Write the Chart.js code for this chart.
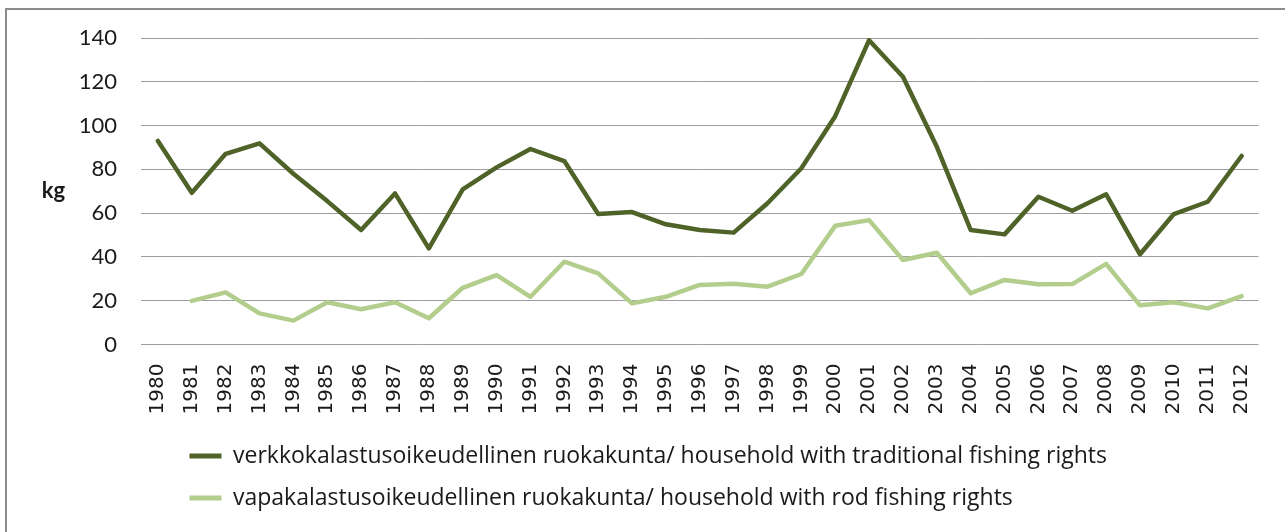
<!DOCTYPE html>
<html>
<head>
<meta charset="utf-8">
<script src="https://cdn.jsdelivr.net/npm/chart.js@4.4.0/dist/chart.umd.min.js"></script>
<style>
  html, body { margin: 0; padding: 0; background: #fff; overflow: hidden; }
  #frame {
    position: absolute; left: 5px; top: 8px; width: 1278px; height: 522px;
    border-left: 2px solid #8c8c8c; border-top: 2px solid #8c8c8c;
  }
  #chart { display: block; }
</style>
</head>
<body>
<div id="frame"><canvas id="chart" width="1278" height="522"></canvas></div>
<script>
const years = ['1980', '1981', '1982', '1983', '1984', '1985', '1986', '1987', '1988', '1989',
  '1990', '1991', '1992', '1993', '1994', '1995', '1996', '1997', '1998', '1999',
  '2000', '2001', '2002', '2003', '2004', '2005', '2006', '2007', '2008', '2009',
  '2010', '2011', '2012'];

const traditionalKg = [93, 69.3, 87.1, 91.9, 78, 65.5, 52.3, 69, 43.9, 70.9,
  80.9, 89.3, 83.8, 59.6, 60.5, 54.9, 52.3, 51.1, 64.5, 80.5,
  104.3, 139, 122.3, 90.3, 52.3, 50.3, 67.5, 61.1, 68.6, 41.2,
  59.6, 65.2, 86.1];

const rodKg = [null, 19.9, 23.8, 14.2, 10.9, 19.3, 16.1, 19.3, 12, 25.9,
  31.7, 21.8, 37.8, 32.5, 18.8, 21.8, 27.2, 27.8, 26.4, 32.2,
  54.2, 56.8, 38.6, 41.9, 23.4, 29.5, 27.5, 27.6, 36.8, 17.9,
  19.3, 16.5, 22.1];

const seriesLabels = [
  'verkkokalastusoikeudellinen ruokakunta/ household with traditional fishing rights',
  'vapakalastusoikeudellinen ruokakunta/ household with rod fishing rights',
];

const yTicks = [0, 20, 40, 60, 80, 100, 120, 140];

const darkGreen = '#4f6228';
const lightGreen = '#b3ce8c';
const textColor = '#1a1a1a';
const gridColor = '#9d9d9d';
const legendLeft = 163.5;

const chartExtras = {
  id: 'chartExtras',
  afterLayout(chart) {
    if (chart.legend) {
      chart.legend.left = legendLeft;
    }
  },
  afterDraw(chart) {
    const ctx = chart.ctx;
    ctx.save();
    ctx.font = 'bold 22px Lato';
    ctx.fillStyle = textColor;
    ctx.textAlign = 'center';
    ctx.textBaseline = 'alphabetic';
    ctx.fillText('kg', 46.5, 187.5);
    ctx.restore();
  },
};

const lineStyle = (color) => ({
  borderColor: color,
  backgroundColor: color,
  borderWidth: 4.5,
  pointRadius: 0,
  pointHoverRadius: 0,
  tension: 0,
  borderJoinStyle: 'round',
  borderCapStyle: 'round',
});

new Chart(document.getElementById('chart'), {
  type: 'line',
  data: {
    labels: years,
    datasets: [
      { label: seriesLabels[0], data: traditionalKg, ...lineStyle(darkGreen) },
      { label: seriesLabels[1], data: rodKg, ...lineStyle(lightGreen) },
    ],
  },
  options: {
    responsive: false,
    animation: false,
    layout: {
      padding: { top: 28, right: 26, bottom: 12.5, left: 0 },
    },
    scales: {
      x: {
        offset: true,
        grid: { display: false, drawTicks: false },
        border: { display: false },
        afterFit: (scale) => { scale.height = 81; },
        ticks: {
          color: textColor,
          font: { family: 'DejaVu Sans', size: 20 },
          padding: 19,
          minRotation: 90,
          maxRotation: 90,
          autoSkip: false,
        },
      },
      y: {
        min: 0,
        max: 140,
        afterFit: (scale) => {
          scale.width = 134;
          scale.paddingTop = 12;
          scale.paddingBottom = 12;
        },
        afterBuildTicks: (scale) => { scale.ticks = yTicks.map((value) => ({ value })); },
        grid: { color: gridColor, lineWidth: 1, drawTicks: false },
        border: { display: false },
        ticks: {
          color: textColor,
          font: { family: 'Lato', size: 22 },
          padding: 24,
        },
      },
    },
    plugins: {
      tooltip: { enabled: false },
      legend: {
        position: 'bottom',
        align: 'start',
        labels: {
          color: textColor,
          font: { family: 'Open Sans', size: 23 },
          boxWidth: 32,
          boxHeight: 5,
          padding: 19,
          generateLabels: (chart) => Chart.defaults.plugins.legend.labels.generateLabels(chart)
            .map((item) => ({ ...item, lineWidth: 0 })),
        },
      },
    },
  },
  plugins: [chartExtras],
});
</script>
</body>
</html>
